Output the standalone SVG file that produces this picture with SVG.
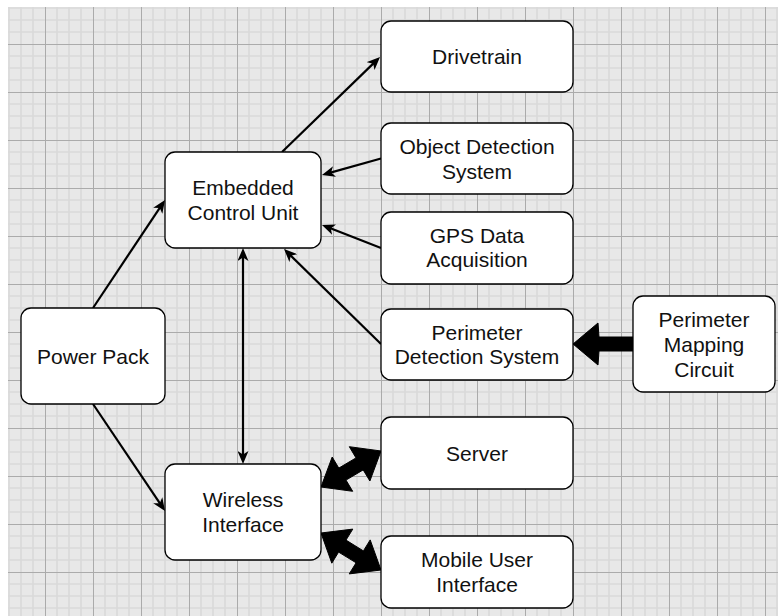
<svg xmlns="http://www.w3.org/2000/svg" width="778" height="616" viewBox="0 0 778 616">
<style>
.box{fill:#ffffff;stroke:#000000;stroke-width:1.3}
.lbl{font-family:"Liberation Sans",Helvetica,Arial,sans-serif;font-size:21px;fill:#111111;text-anchor:middle}
.ln{fill:none;stroke:#000000;stroke-width:2.2}
.blk{fill:#000000;stroke:#000000;stroke-width:1;stroke-linejoin:miter}
</style>
<defs>
<pattern id="grid" patternUnits="userSpaceOnUse" x="-3" y="-4" width="48" height="48">
<rect x="0" y="0" width="48" height="48" fill="#e8e8e8"/>
<path d="M12,0V48M24,0V48M36,0V48M0,12H48M0,24H48M0,36H48" stroke="#dadada" stroke-width="1.6" fill="none"/>
<path d="M0.5,0V48M0,0.5H48" stroke="#ababab" stroke-width="1" fill="none"/>
</pattern>
<marker id="arr" viewBox="0 0 13 11" refX="6" refY="5.5" markerWidth="13" markerHeight="11" markerUnits="userSpaceOnUse" orient="auto-start-reverse">
<path d="M0,0 L13,5.5 L0,11 L3.5,5.5 Z" fill="#000000"/>
</marker>
</defs>
<rect x="0" y="0" width="778" height="616" fill="#ffffff"/>
<rect x="8" y="7" width="770" height="609" fill="url(#grid)"/>

<g id="connectors">
<line class="ln" x1="282" y1="152" x2="375" y2="61.9" marker-end="url(#arr)"/>
<line class="ln" x1="381" y1="158.5" x2="328.7" y2="173.1" marker-end="url(#arr)"/>
<line class="ln" x1="381" y1="248" x2="328.5" y2="227.5" marker-end="url(#arr)"/>
<line class="ln" x1="381" y1="344" x2="289" y2="253.9" marker-end="url(#arr)"/>
<line class="ln" x1="93" y1="308" x2="161.1" y2="205.8" marker-end="url(#arr)"/>
<line class="ln" x1="93" y1="404" x2="161.1" y2="505.2" marker-end="url(#arr)"/>
<line class="ln" x1="243" y1="255" x2="243" y2="457" marker-start="url(#arr)" marker-end="url(#arr)"/>
<polygon class="blk" points="633,337 599,337 598,323 573,344 598,365 599,351 633,351"/>
<polygon class="blk" points="321,487 352.7,491.3 346,480.1 363.2,469.9 369.9,481 381,451 349.3,446.7 356,457.9 338.8,468.1 332.2,457"/>
<polygon class="blk" points="321,533 331.8,563.2 338.6,552.1 356.1,562.8 349.2,573.9 381,570 370.2,539.9 363.4,550.9 346,540.1 352.8,529.1"/>
</g>

<g id="drivetrain">
<rect class="box" x="381" y="21" width="192" height="71" rx="10" ry="10"/>
<text class="lbl" x="477" y="64">Drivetrain</text>
</g>
<g id="object-detection">
<rect class="box" x="381" y="123" width="192" height="71" rx="10" ry="10"/>
<text class="lbl" x="477" y="154">Object Detection</text>
<text class="lbl" x="477" y="178.5">System</text>
</g>
<g id="gps">
<rect class="box" x="381" y="212" width="192" height="72" rx="10" ry="10"/>
<text class="lbl" x="477" y="242.5">GPS Data</text>
<text class="lbl" x="477" y="267">Acquisition</text>
</g>
<g id="perimeter-detection">
<rect class="box" x="381" y="309" width="192" height="71" rx="10" ry="10"/>
<text class="lbl" x="477" y="339.5">Perimeter</text>
<text class="lbl" x="477" y="364">Detection System</text>
</g>
<g id="server">
<rect class="box" x="381" y="417" width="192" height="72" rx="10" ry="10"/>
<text class="lbl" x="477" y="460.5">Server</text>
</g>
<g id="mobile-ui">
<rect class="box" x="381" y="536" width="192" height="72" rx="10" ry="10"/>
<text class="lbl" x="477" y="567">Mobile User</text>
<text class="lbl" x="477" y="591.5">Interface</text>
</g>
<g id="ecu">
<rect class="box" x="165" y="152" width="156" height="96" rx="10" ry="10"/>
<text class="lbl" x="243" y="195">Embedded</text>
<text class="lbl" x="243" y="220">Control Unit</text>
</g>
<g id="power-pack">
<rect class="box" x="21" y="308" width="144" height="96" rx="10" ry="10"/>
<text class="lbl" x="93" y="363.5">Power Pack</text>
</g>
<g id="wireless">
<rect class="box" x="165" y="464" width="156" height="96" rx="10" ry="10"/>
<text class="lbl" x="243" y="507">Wireless</text>
<text class="lbl" x="243" y="532">Interface</text>
</g>
<g id="perimeter-mapping">
<rect class="box" x="633" y="296" width="142" height="96" rx="10" ry="10"/>
<text class="lbl" x="704" y="327">Perimeter</text>
<text class="lbl" x="704" y="352">Mapping</text>
<text class="lbl" x="704" y="377">Circuit</text>
</g>
</svg>
